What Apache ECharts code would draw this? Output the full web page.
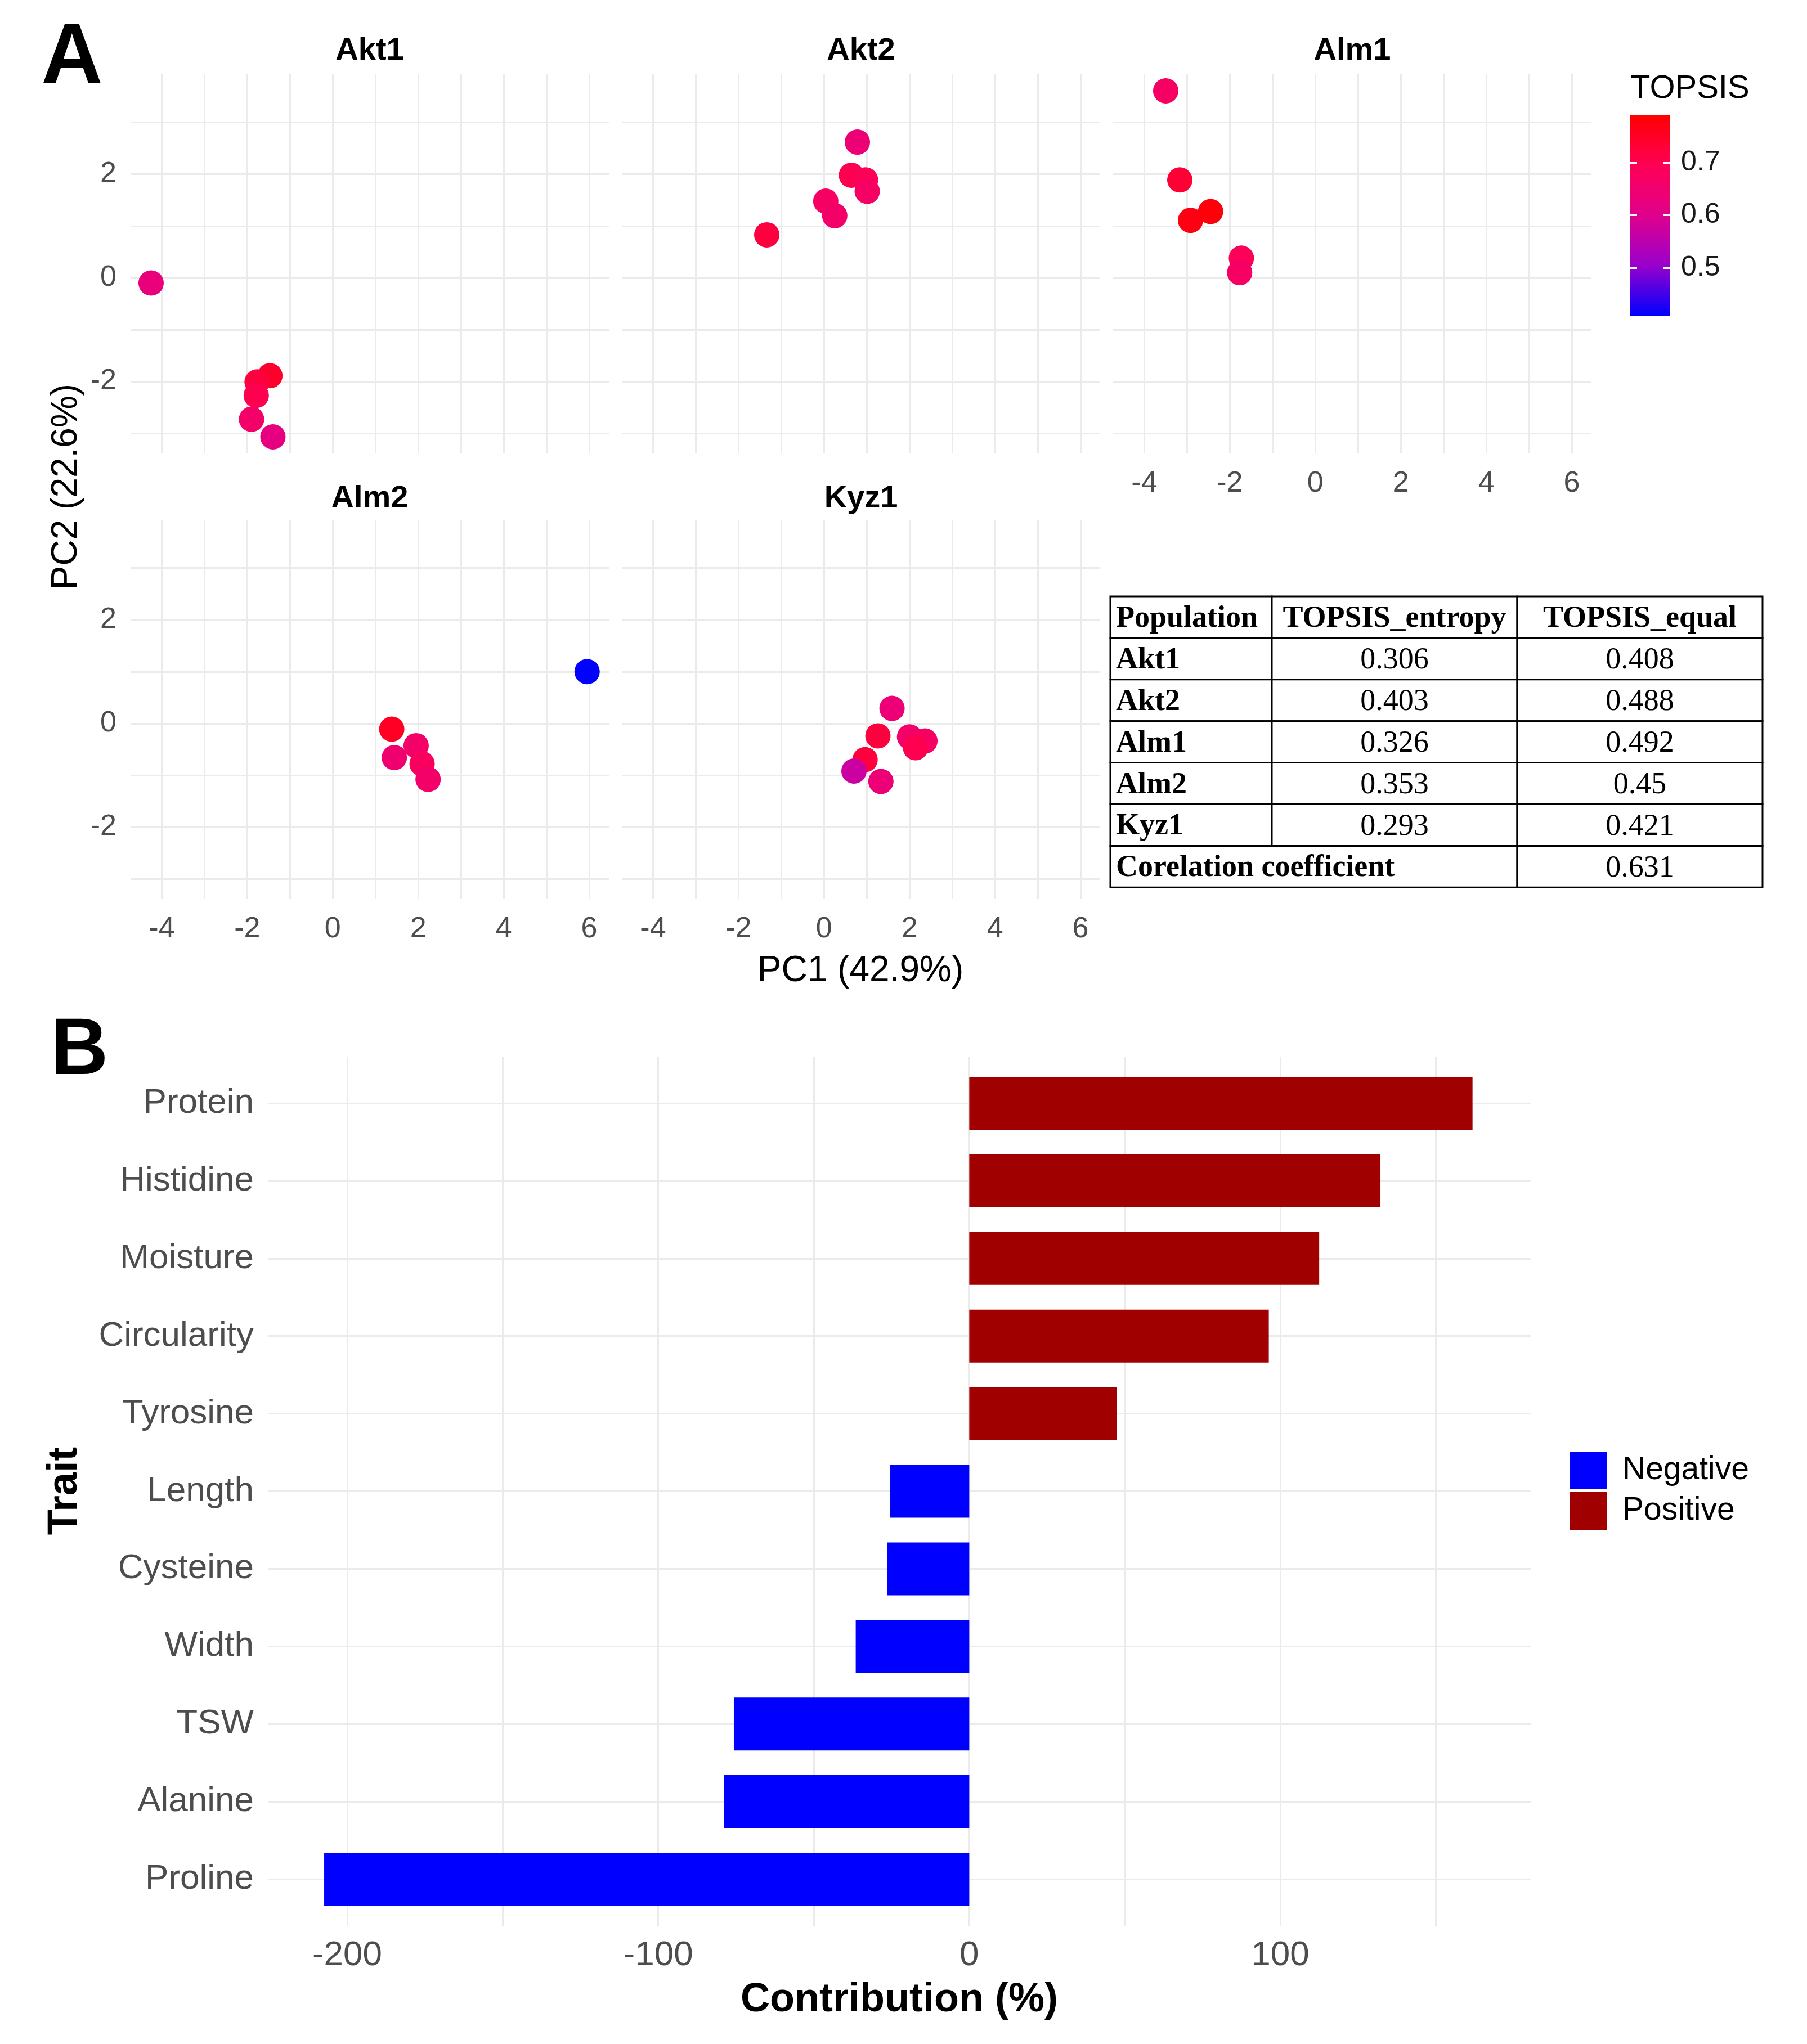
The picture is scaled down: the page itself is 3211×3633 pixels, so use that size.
<!DOCTYPE html>
<html lang="en">
<head>
<meta charset="utf-8" />
<script src="https://cdn.jsdelivr.net/npm/echarts@6/dist/echarts.min.js"></script>
</head>
<body style="margin: 0">
<div id="container" style="width: 3211px; height: 3633px"></div>
<script>
// ---- panel A data: [PC1, PC2, TOPSIS] per sample ----
var populations = ['Akt1', 'Akt2', 'Alm1', 'Alm2', 'Kyz1'];
var akt1 = [[-4.25, -0.10, 0.63], [-1.47, -1.89, 0.74], [-1.77, -2.01, 0.72], [-1.79, -2.27, 0.70], [-1.90, -2.73, 0.66], [-1.40, -3.07, 0.62]];
var akt2 = [[0.78, 2.62, 0.64], [0.64, 1.98, 0.70], [0.97, 1.89, 0.69], [1.01, 1.67, 0.67], [0.04, 1.48, 0.67], [0.25, 1.20, 0.66], [-1.34, 0.83, 0.72]];
var alm1 = [[-3.50, 3.61, 0.67], [-3.17, 1.89, 0.73], [-2.92, 1.11, 0.77], [-2.45, 1.28, 0.78], [-1.73, 0.38, 0.69], [-1.77, 0.10, 0.67]];
var alm2 = [[1.38, -0.11, 0.75], [1.44, -0.66, 0.65], [1.95, -0.43, 0.66], [2.09, -0.78, 0.68], [2.23, -1.08, 0.66], [5.95, 1.00, 0.41]];
var kyz1 = [[1.59, 0.29, 0.64], [1.26, -0.24, 0.72], [2.00, -0.26, 0.66], [2.36, -0.34, 0.67], [2.14, -0.47, 0.70], [0.96, -0.70, 0.72], [0.70, -0.92, 0.57], [1.33, -1.12, 0.64]];
var panelData = [akt1, akt2, alm1, alm2, kyz1];

var pcXRange = [-4.73, 6.46];
var pcYRange = [-3.38, 3.93];
var pcXTicks = [-4, -3, -2, -1, 0, 1, 2, 3, 4, 5, 6];
var pcXLabels = [-4, -2, 0, 2, 4, 6];
var pcYTicks = [-3, -2, -1, 0, 1, 2, 3];
var pcYLabels = [-2, 0, 2];
var topsisRange = [0.409, 0.791];
var topsisLabels = [0.5, 0.6, 0.7];

// ---- table ----
var tableHeader = ['Population', 'TOPSIS_entropy', 'TOPSIS_equal'];
var topsisEntropy = [0.306, 0.403, 0.326, 0.353, 0.293];
var topsisEqual = [0.408, 0.488, 0.492, 0.45, 0.421];
var correlation = 0.631;

// ---- panel B data ----
var traits = ['Protein', 'Histidine', 'Moisture', 'Circularity', 'Tyrosine', 'Length', 'Cysteine', 'Width', 'TSW', 'Alanine', 'Proline'];
var contribution = [161.8, 132.2, 112.5, 96.3, 47.4, -25.4, -26.3, -36.5, -75.7, -78.8, -207.4];
var contribRange = [-225.5, 180.5];
var contribTicks = [-200, -150, -100, -50, 0, 50, 100, 150];
var contribLabels = [-200, -100, 0, 100];

// ---- styling / layout ----
var SANS = '"Liberation Sans", Arial, sans-serif';
var SERIF = '"Liberation Serif", "Times New Roman", serif';
var GRID_COLOR = '#EBEBEB';
var TICK_COLOR = '#4D4D4D';
var topsisColors = ['#0000FF', '#9900CC', '#E0008C', '#FF0055', '#FF0000'];

var panelLeft = [232, 1105, 1978];
var panelTop = [132, 924];
var panelW = 850, panelH = 673;
var panelPos = [[0, 0], [1, 0], [2, 0], [0, 1], [1, 1]];

var dom = document.getElementById('container');
var chart = echarts.init(dom, null, { renderer: 'canvas' });

var grids = [], xAxes = [], yAxes = [], series = [];

panelPos.forEach(function (p, i) {
    var col = p[0], row = p[1];
    grids.push({ left: panelLeft[col], top: panelTop[row], width: panelW, height: panelH });
    xAxes.push({
        gridIndex: i, type: 'value', min: pcXRange[0], max: pcXRange[1],
        axisLine: { show: false },
        axisTick: { show: false, customValues: pcXTicks },
        axisLabel: { show: row === 1 || col === 2, customValues: pcXLabels, margin: 29, fontSize: 52, color: TICK_COLOR, fontFamily: SANS },
        splitLine: { show: true, lineStyle: { color: GRID_COLOR, width: 3 } }
    });
    yAxes.push({
        gridIndex: i, type: 'value', min: pcYRange[0], max: pcYRange[1],
        axisLine: { show: false },
        axisTick: { show: false, customValues: pcYTicks },
        axisLabel: { show: col === 0, customValues: pcYLabels, margin: 25, fontSize: 52, color: TICK_COLOR, fontFamily: SANS, padding: [10, 0, 0, 0] },
        splitLine: { show: true, lineStyle: { color: GRID_COLOR, width: 3 } }
    });
    series.push({
        name: populations[i], type: 'scatter', xAxisIndex: i, yAxisIndex: i,
        data: panelData[i], symbolSize: 45, itemStyle: { opacity: 1 }
    });
});

// colour bar (grid 5)
var barGradient = new echarts.graphic.LinearGradient(0, 1, 0, 0, topsisColors.map(function (c, k) {
    return { offset: k / (topsisColors.length - 1), color: c };
}));
grids.push({ left: 2896, top: 204, width: 72, height: 357, show: true, backgroundColor: barGradient, borderWidth: 0 });
xAxes.push({ gridIndex: 5, type: 'category', data: [''], show: false });
yAxes.push({
    gridIndex: 5, type: 'value', min: topsisRange[0], max: topsisRange[1], position: 'right',
    axisLine: { show: false },
    axisTick: { show: true, inside: true, length: 13, customValues: topsisLabels, lineStyle: { color: '#FFFFFF', width: 3 } },
    axisLabel: { customValues: topsisLabels, margin: 19, fontSize: 50, color: '#1A1A1A', fontFamily: SANS, padding: [8, 0, 0, 0] },
    splitLine: { show: false }
});

// panel B background grid (grid 6): vertical grid lines + x labels
grids.push({ left: 476, top: 1878, width: 2244, height: 1545 });
xAxes.push({
    gridIndex: 6, type: 'value', min: contribRange[0], max: contribRange[1],
    axisLine: { show: false },
    axisTick: { show: false, customValues: contribTicks },
    axisLabel: { customValues: contribLabels, margin: 22, fontSize: 62, color: TICK_COLOR, fontFamily: SANS },
    splitLine: { show: true, lineStyle: { color: GRID_COLOR, width: 3 } }
});
yAxes.push({ gridIndex: 6, type: 'value', show: false, min: 0, max: 1 });

// panel B bars (grid 7)
grids.push({ left: 476, top: 1961, width: 2244, height: 1379 });
xAxes.push({ gridIndex: 7, type: 'value', min: contribRange[0], max: contribRange[1], show: false });
yAxes.push({
    gridIndex: 7, type: 'category', data: traits, inverse: true, boundaryGap: false,
    axisLine: { show: false },
    axisTick: { show: false, interval: 0 },
    axisLabel: { interval: 0, margin: 25, fontSize: 62, color: TICK_COLOR, fontFamily: SANS, padding: [12, 0, 0, 0] },
    splitLine: { show: true, interval: 0, lineStyle: { color: GRID_COLOR, width: 3 } }
});

// left-side ticks of the colour bar
yAxes.push({
    gridIndex: 5, type: 'value', min: topsisRange[0], max: topsisRange[1], position: 'left',
    axisLine: { show: false },
    axisTick: { show: true, inside: true, length: 13, customValues: topsisLabels, lineStyle: { color: '#FFFFFF', width: 3 } },
    axisLabel: { show: false },
    splitLine: { show: false }
});

series.push({
    name: 'Negative', type: 'bar', xAxisIndex: 7, yAxisIndex: 7, stack: 'c', barWidth: 94, clip: false,
    itemStyle: { color: '#0000FF' },
    data: contribution.map(function (v) { return v < 0 ? v : '-'; })
});
series.push({
    name: 'Positive', type: 'bar', xAxisIndex: 7, yAxisIndex: 7, stack: 'c', barWidth: 94, clip: false,
    itemStyle: { color: '#A00000' },
    data: contribution.map(function (v) { return v >= 0 ? v : '-'; })
});

// ---- texts ----
function txt(text, x, y, font, opts) {
    opts = opts || {};
    return {
        type: 'text', x: x, y: y, rotation: opts.rotation || 0, z: 10,
        style: {
            text: text, font: font, fill: opts.fill || '#000',
            textAlign: opts.align || 'center', textVerticalAlign: 'middle'
        }
    };
}

var graphics = [];
graphics.push(txt('A', 128, 106, 'bold 152px ' + SANS));
graphics.push(txt('B', 141, 1870, 'bold 142px ' + SANS));
panelPos.forEach(function (p, i) {
    var cx = panelLeft[p[0]] + panelW / 2;
    graphics.push(txt(populations[i], cx, p[1] === 0 ? 91 : 887, 'bold 56px ' + SANS));
});
graphics.push(txt('PC1 (42.9%)', 1529, 1726, '64px ' + SANS));
graphics.push(txt('PC2 (22.6%)', 118, 865, '64px ' + SANS, { rotation: Math.PI / 2 }));
graphics.push(txt('TOPSIS', 2897, 158, '58px ' + SANS, { align: 'left' }));
graphics.push(txt('Trait', 116, 2650, 'bold 74px ' + SANS, { rotation: Math.PI / 2 }));
graphics.push(txt('Contribution (%)', 1598, 3555, 'bold 72px ' + SANS));

// table
var tableCols = [1973, 2260, 2696, 3132];
var tableTop = 1060, rowH = 73.9;
function tableCell(c0, c1, r, text, bold, align) {
    var x0 = tableCols[c0], x1 = tableCols[c1];
    var y0 = tableTop + r * rowH;
    graphics.push({
        type: 'rect', z: 5,
        shape: { x: x0, y: y0, width: x1 - x0, height: rowH },
        style: { fill: '#FFFFFF', stroke: '#000000', lineWidth: 3 }
    });
    var tx = align === 'left' ? x0 + 10 : (x0 + x1) / 2;
    graphics.push(txt(text, tx, y0 + rowH / 2 + 3, (bold ? 'bold ' : '') + '54px ' + SERIF, { align: align }));
}
tableCell(0, 1, 0, tableHeader[0], true, 'left');
tableCell(1, 2, 0, tableHeader[1], true, 'center');
tableCell(2, 3, 0, tableHeader[2], true, 'center');
populations.forEach(function (name, k) {
    tableCell(0, 1, k + 1, name, true, 'left');
    tableCell(1, 2, k + 1, String(topsisEntropy[k]), false, 'center');
    tableCell(2, 3, k + 1, String(topsisEqual[k]), false, 'center');
});
tableCell(0, 2, 6, 'Corelation coefficient', true, 'left');
tableCell(2, 3, 6, String(correlation), false, 'center');

var option = {
    backgroundColor: '#FFFFFF',
    animation: false,
    textStyle: { fontFamily: SANS },
    grid: grids,
    xAxis: xAxes,
    yAxis: yAxes,
    visualMap: {
        type: 'continuous', show: false, min: topsisRange[0], max: topsisRange[1],
        dimension: 2, seriesIndex: [0, 1, 2, 3, 4],
        inRange: { color: topsisColors }
    },
    legend: {
        data: ['Negative', 'Positive'], orient: 'vertical', left: 2790, top: 2580,
        itemWidth: 66, itemHeight: 67, itemGap: 5, icon: 'rect', padding: 0,
        selectedMode: false,
        textStyle: { fontSize: 57, color: '#000', fontFamily: SANS, padding: [6, 0, 0, 22] }
    },
    graphic: graphics,
    series: series
};

chart.setOption(option);
window.addEventListener('resize', chart.resize);
</script>
</body>
</html>
